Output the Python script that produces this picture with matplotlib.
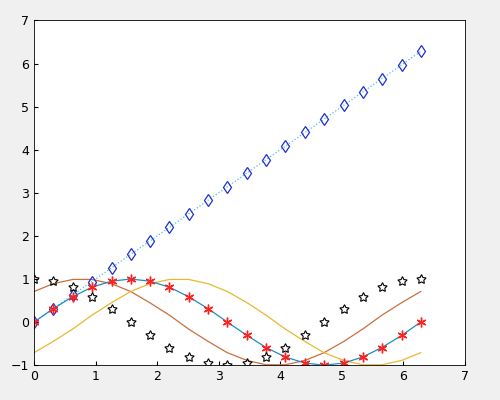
import matplotlib
matplotlib.use('Agg')
import matplotlib.pyplot as plt

x = [0, 0.31, 0.63, 0.94, 1.26, 1.57, 1.88, 2.20, 2.51, 2.83, 3.14,
     3.46, 3.77, 4.08, 4.40, 4.71, 5.03, 5.34, 5.65, 5.97, 6.28]
y_sin = [0, 0.31, 0.59, 0.81, 0.95, 1, 0.95, 0.81, 0.59, 0.31, 0,
         -0.31, -0.59, -0.81, -0.95, -1, -0.95, -0.81, -0.59, -0.31, 0]
y_cos = [1, 0.95, 0.81, 0.59, 0.31, 0, -0.31, -0.59, -0.81, -0.95, -1,
         -0.95, -0.81, -0.59, -0.31, 0, 0.31, 0.59, 0.81, 0.95, 1]
y_lead = [0.71, 0.89, 0.99, 0.99, 0.89, 0.71, 0.45, 0.16, -0.16, -0.45, -0.71,
          -0.89, -0.99, -0.99, -0.89, -0.71, -0.45, -0.16, 0.16, 0.45, 0.71]
y_lag = [-0.71, -0.45, -0.16, 0.16, 0.45, 0.71, 0.89, 0.99, 0.99, 0.89, 0.71,
         0.45, 0.16, -0.16, -0.45, -0.71, -0.89, -0.99, -0.99, -0.89, -0.71]

fig = plt.figure(figsize=(5, 4), dpi=100, facecolor='#f0f0f0')
ax = fig.add_axes([0.068, 0.087, 0.862, 0.862])

ax.plot(x, y_lead, color='#c8703c', lw=0.9)
ax.plot(x, y_lag, color='#e8b830', lw=0.9)
ax.plot(x, x, ':', color='#4dbeee', lw=0.9)
ax.plot(x, x, 'd', mfc='none', mec='#2030d0', ms=6, mew=0.9)
ax.plot(x, y_sin, '-', color='#1a8fc0', lw=0.9)
ax.plot(x, y_sin, linestyle='none', marker=(6, 2, 0), color='#ff2020', ms=7, mew=1.0)
ax.plot(x, y_cos, linestyle='none', marker=(5, 1, 0), mfc='none', mec='black', ms=7, mew=0.8)

ax.set_xlim(0, 7)
ax.set_ylim(-1, 7)
ax.set_xticks(range(0, 8))
ax.set_yticks(range(-1, 8))
ax.tick_params(direction='in', labelsize=9, length=3)
for s in ax.spines.values():
    s.set_linewidth(0.6)

fig.savefig('out.png', dpi=100, facecolor=fig.get_facecolor())
